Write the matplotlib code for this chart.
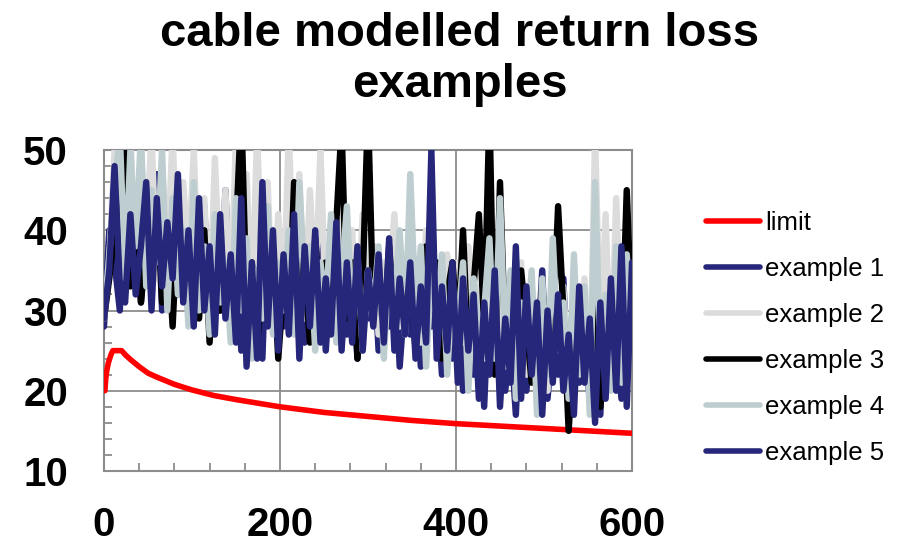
import matplotlib
matplotlib.use('Agg')
import matplotlib.pyplot as plt
from matplotlib.ticker import MultipleLocator
import numpy as np

plt.rcParams['font.family'] = ['Liberation Sans', 'DejaVu Sans']

# frequency grid of the examples (every 6 units, 0..600)
freq = np.arange(0, 601, 6)

# limit line
limit_f = [1, 2, 3, 5, 8, 10, 15, 20, 25, 30, 40, 50, 60, 80, 100, 125, 150,
           200, 250, 300, 350, 400, 450, 500, 550, 600]
limit_rl = [20, 21.5, 22.4, 23.5, 24.5, 25, 25, 25, 24.4, 23.9, 23.0, 22.2, 21.7,
            20.8, 20.1, 19.4, 18.9, 18.0, 17.3, 16.8, 16.3, 15.9, 15.6, 15.3, 15.0, 14.7]

example1 = [28, 40, 36, 30, 45, 34, 43, 31, 39, 35, 47, 30, 36, 42, 32, 45, 29, 37, 31, 43,
            27, 40, 30, 45, 28, 38, 25, 40, 29, 35, 24, 43, 30, 36, 28, 44, 30, 37, 26, 43,
            29, 39, 25, 35, 29, 40, 27, 37, 24, 33, 29, 38, 25, 34, 28, 37, 23, 32, 27, 35,
            23, 36, 28, 33, 22, 36, 24, 31, 20, 35, 22, 30, 18, 34, 23, 31, 20, 27, 17, 32,
            20, 28, 23, 35, 19, 27, 22, 34, 18, 28, 21, 25, 19, 30, 17, 35, 22, 27, 19, 32, 27]

example2 = [29, 36, 50, 38, 46, 52, 35, 50, 38, 52, 34, 48, 36, 52, 33, 46, 36, 50, 32, 44,
            29, 49, 33, 45, 30, 52, 34, 47, 30, 52, 33, 46, 28, 42, 31, 52, 34, 47, 29, 45,
            32, 50, 30, 38, 27, 44, 32, 40, 28, 42, 30, 38, 27, 36, 33, 42, 28, 37, 30, 35,
            26, 40, 31, 34, 25, 37, 30, 36, 26, 38, 29, 33, 24, 40, 27, 34, 23, 32, 28, 36,
            22, 33, 27, 31, 20, 36, 28, 33, 21, 30, 25, 34, 19, 52, 26, 42, 22, 44, 25, 43, 30]

example3 = [29, 34, 40, 36, 52, 33, 45, 31, 38, 34, 44, 31, 39, 28, 42, 35, 31, 38, 29, 40,
            26, 36, 30, 34, 29, 40, 55, 31, 36, 26, 33, 30, 37, 24, 33, 28, 46, 30, 35, 26,
            39, 31, 36, 28, 41, 53, 29, 36, 24, 34, 55, 30, 36, 26, 38, 28, 35, 30, 36, 25,
            33, 38, 30, 36, 24, 32, 36, 27, 40, 24, 33, 42, 28, 55, 22, 46, 26, 30, 22, 35,
            28, 21, 26, 33, 24, 27, 43, 30, 15, 26, 22, 28, 20, 35, 18, 26, 21, 30, 24, 45, 28]

example4 = [29, 37, 45, 52, 34, 50, 38, 52, 33, 45, 36, 50, 30, 44, 32, 40, 28, 46, 30, 38,
            27, 42, 31, 36, 26, 44, 30, 39, 24, 35, 29, 43, 27, 36, 30, 40, 27, 46, 33, 38,
            25, 36, 30, 42, 26, 34, 43, 28, 37, 25, 35, 30, 38, 24, 36, 31, 40, 27, 47, 30,
            38, 23, 35, 29, 37, 22, 33, 28, 36, 20, 34, 27, 30, 39, 24, 44, 25, 35, 19, 31,
            26, 35, 17, 34, 22, 39, 25, 31, 19, 37, 22, 33, 17, 46, 24, 32, 20, 38, 21, 37, 26]

example5 = [29, 35, 48, 33, 31, 42, 32, 38, 46, 30, 44, 33, 41, 34, 47, 31, 40, 28, 44, 30,
            38, 27, 42, 29, 37, 26, 44, 23, 36, 24, 46, 28, 40, 25, 37, 27, 42, 24, 38, 28,
            40, 26, 34, 27, 41, 25, 36, 26, 38, 25, 35, 28, 37, 26, 39, 25, 34, 27, 36, 24,
            33, 26, 50, 24, 33, 25, 36, 21, 34, 25, 32, 19, 31, 22, 35, 18, 29, 21, 38, 19,
            33, 22, 31, 17, 30, 21, 32, 20, 27, 17, 33, 21, 29, 16, 31, 19, 34, 20, 38, 18, 36]

labels = ['limit', 'example 1', 'example 2', 'example 3', 'example 4', 'example 5']
colors = ['#FF0000', '#26267A', '#DCDCDC', '#000000', '#BDCDD0', '#26267A']

fig = plt.figure(figsize=(8.98, 5.42), dpi=100)
ax = fig.add_axes([0.1158, 0.131, 0.588, 0.5922])

ax.plot(limit_f, limit_rl, color=colors[0], lw=4.0, label=labels[0], zorder=3,
        solid_capstyle='round')
series = [example1, example2, example3, example4, example5]
for i, s in enumerate(series):
    ax.plot(freq, s, color=colors[i + 1], lw=4.6, label=labels[i + 1], zorder=4 + i,
            solid_joinstyle='round', solid_capstyle='round')

ax.set_xlim(0, 600)
ax.set_ylim(10, 50)
ax.xaxis.set_major_locator(MultipleLocator(200))
ax.xaxis.set_minor_locator(MultipleLocator(40))
ax.yaxis.set_major_locator(MultipleLocator(10))
ax.yaxis.set_minor_locator(MultipleLocator(2))
ax.grid(True, which='major', color='#8c8c8c', lw=1.3)
ax.set_axisbelow(True)
for sp in ax.spines.values():
    sp.set_color('#8c8c8c')
    sp.set_linewidth(1.5)
ax.tick_params(which='both', direction='in', color='#8c8c8c', width=1.3, top=False, right=False)
ax.tick_params(which='major', length=0)
ax.tick_params(which='minor', length=6)
ax.tick_params(axis='x', which='major', labelsize=29, pad=25)
ax.tick_params(axis='y', which='major', labelsize=29, pad=26)
for lab in ax.get_xticklabels() + ax.get_yticklabels():
    lab.set_fontweight('bold')

fig.text(0.512, 0.978, 'cable modelled return loss\nexamples', ha='center', va='top',
         fontsize=34, fontweight='bold', linespacing=1.2)

leg = fig.legend(loc='center left', bbox_to_anchor=(0.786, 0.376), frameon=False,
                 fontsize=18.5, handlelength=2.1, handletextpad=0.2, labelspacing=0.86,
                 borderpad=0, borderaxespad=0)
for line in leg.get_lines():
    line.set_linewidth(4.0)

fig.savefig('out.png', dpi=100)
